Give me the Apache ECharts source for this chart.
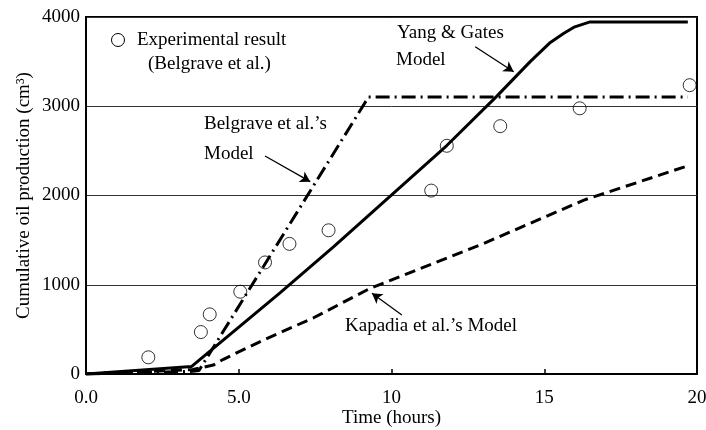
<!DOCTYPE html>
<html>
<head>
<meta charset="utf-8">
<script src="https://cdn.jsdelivr.net/npm/echarts@6/dist/echarts.min.js"></script>
<style>html,body{margin:0;padding:0;background:#fff;}#c{width:706px;height:430px;}</style>
</head>
<body>
<div id="c"></div>
<script>
// ---- data (time in hours, cumulative oil production in cm3) ----
const experimental = [[0.22,-20],[2.04,187],[3.76,470],[4.05,668],[5.05,922],[5.86,1250],[6.66,1458],[7.94,1610],[11.3,2055],[11.81,2557],[13.56,2777],[16.16,2977],[19.76,3236]];
const yangGates = [[0,0],[3.46,85],[6.35,910],[8.1,1425],[10.28,2090],[11.81,2560],[13.45,3113],[14.54,3500],[15.2,3715],[15.63,3815],[16.0,3890],[16.5,3945],[19.7,3945]];
const belgrave = [[0,0],[3.5,30],[3.7,40],[9.25,3105],[19.7,3105]];
const kapadia = [[0,0],[3.5,50],[4.17,100],[4.5,165],[5.81,381],[7.45,630],[9.3,960],[9.85,1034],[13,1460],[16.3,1949],[19.7,2333]];
const xTickLabels = ['0.0','5.0','10','15','20'];
const yTickLabels = ['0','1000','2000','3000','4000'];
// annotation arrows: [from, to] in data coordinates
const arrowBelgrave = [[5.86,2443],[7.34,2155]];
const arrowYang = [[12.74,3667],[14.0,3387]];
const arrowKapadia = [[10.34,661],[9.36,904]];

const FONT = 'Liberation Serif';
const FS = 19;
const chart = echarts.init(document.getElementById('c'), null, {renderer:'canvas'});

function txt(x, y, s) {
  return {type:'text', x:x, y:y, style:{text:s, font: FS + 'px "' + FONT + '"', fill:'#000', align:'left', verticalAlign:'middle'}, z:100};
}
function arrowPair(a) { return [{coord:a[0]},{coord:a[1]}]; }

chart.setOption({
  animation:false,
  backgroundColor:'#fff',
  grid:{left:86, right:9, top:17, bottom:56, outerBoundsMode:'none', containLabel:false, show:true, borderColor:'#000', borderWidth:2, backgroundColor:'transparent'},
  xAxis:{
    type:'value', min:0, max:20, interval:5,
    name:'Time (hours)', nameLocation:'middle', nameGap:35, nameMoveOverlap:false,
    nameTextStyle:{fontFamily:FONT, fontSize:FS, color:'#000'},
    axisLine:{show:true, lineStyle:{color:'#000', width:2}},
    axisTick:{show:true, inside:true, length:5, lineStyle:{color:'#000', width:1.5}},
    axisLabel:{fontFamily:FONT, fontSize:FS, color:'#000', margin:15, formatter:function(v){return xTickLabels[Math.round(v/5)];}},
    splitLine:{show:false}
  },
  yAxis:{
    type:'value', min:0, max:4000, interval:1000,
    name:'Cumulative oil production (cm³)', nameLocation:'middle', nameGap:52, nameRotate:90, nameMoveOverlap:false,
    nameTextStyle:{fontFamily:FONT, fontSize:FS, color:'#000'},
    axisLine:{show:true, lineStyle:{color:'#000', width:2}},
    axisTick:{show:false},
    axisLabel:{fontFamily:FONT, fontSize:FS, color:'#000', margin:6, formatter:function(v){return yTickLabels[Math.round(v/1000)];}},
    splitLine:{show:true, lineStyle:{color:'#333', width:1}}
  },
  series:[
    {type:'line', name:'Yang & Gates Model', data:yangGates, showSymbol:false, symbol:'none',
     lineStyle:{color:'#000', width:3, type:'solid'}, z:3,
     markLine:{silent:true, symbol:['none','arrow'], symbolSize:[9,10],
       lineStyle:{color:'#000', width:1.3, type:'solid'}, label:{show:false},
       data:[arrowPair(arrowBelgrave), arrowPair(arrowYang), arrowPair(arrowKapadia)]}},
    {type:'line', name:"Belgrave et al.'s Model", data:belgrave, showSymbol:false, symbol:'none',
     lineStyle:{color:'#000', width:3, type:[14,5,2,5]}, z:3},
    {type:'line', name:"Kapadia et al.'s Model", data:kapadia, showSymbol:false, symbol:'none',
     lineStyle:{color:'#000', width:3, type:[11,6]}, z:3},
    {type:'scatter', name:'Experimental result', data:experimental, symbol:'circle', symbolSize:13,
     itemStyle:{color:'rgba(0,0,0,0)', borderColor:'#000', borderWidth:1}, z:4}
  ],
  graphic:[
    {type:'circle', shape:{cx:118, cy:40, r:6.5}, style:{fill:'none', stroke:'#000', lineWidth:1}, z:100},
    txt(137, 40, 'Experimental result'),
    txt(148, 64, '(Belgrave et al.)'),
    txt(204, 124, "Belgrave et al.’s"),
    txt(204, 154, 'Model'),
    txt(397, 33, 'Yang & Gates'),
    txt(396, 60, 'Model'),
    txt(345, 326, "Kapadia et al.’s Model")
  ]
});
</script>
</body>
</html>
